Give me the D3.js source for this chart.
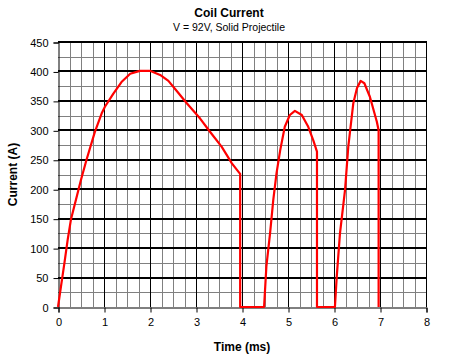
<!DOCTYPE html>
<html lang="en">
  <head>
    <meta charset="utf-8">
    <title>Coil Current</title>
    <script src="https://d3js.org/d3.v7.min.js"></script>
    <style>
      body { margin: 0; background: #fff; }
      text { font-family: Arial, "Liberation Sans", sans-serif; }
    </style>
  </head>
  <body>
    <script>

      // values
      var time = [0, 0.065, 0.14, 0.21, 0.28, 0.39, 0.5, 0.62, 0.8, 0.95, 1.02, 1.2, 1.38, 1.57, 1.78, 2.0, 2.22, 2.4, 2.6, 2.8, 3.09, 3.30, 3.56, 3.78, 3.92, 3.96, 3.96,
                  4.48, 4.53, 4.61, 4.68, 4.75, 4.83, 4.93, 5.04, 5.15, 5.30, 5.44, 5.55, 5.63, 5.63,
                  6.02, 6.06, 6.13, 6.24, 6.31, 6.42, 6.5, 6.58, 6.66, 6.78, 6.93, 6.97, 6.97];
      var current = [0, 35, 75, 114, 148, 182, 216, 250, 297, 329, 340, 362, 382, 396, 401, 401, 394, 384, 365, 346, 320, 298, 272, 244, 230, 226, 0,
                     0, 69, 125, 182, 227, 266, 306, 326, 333, 326, 306, 283, 264, 0,
                     0, 52, 125, 199, 272, 346, 372, 384, 380, 357, 315, 300, 0];
      var xTicks = [0, 1, 2, 3, 4, 5, 6, 7, 8];
      var yTicks = [0, 50, 100, 150, 200, 250, 300, 350, 400, 450];

      var W = 458, H = 357;
      var pLeft = 58, pRight = 426, pTop = 42, pBottom = 307;

      var svg = d3.select("body").append("svg")
                  .attr("width", W)
                  .attr("height", H);

      var x = d3.scaleLinear().domain([0, 8]).range([pLeft, pRight]);
      var y = d3.scaleLinear().domain([0, 450]).range([pBottom, pTop]);

      // minor grid
      var minorX = d3.range(0.25, 8, 0.25).filter(function(v) { return v % 1 != 0; });
      var minorY = d3.range(25, 450, 50);
      svg.selectAll("line.mx").data(minorX).enter().append("line")
         .attr("x1", function(d) { return Math.round(x(d)) + 0.5; })
         .attr("x2", function(d) { return Math.round(x(d)) + 0.5; })
         .attr("y1", pTop).attr("y2", pBottom)
         .style("stroke", "#808080");
      svg.selectAll("line.my").data(minorY).enter().append("line")
         .attr("y1", function(d) { return Math.round(y(d)) + 0.5; })
         .attr("y2", function(d) { return Math.round(y(d)) + 0.5; })
         .attr("x1", pLeft).attr("x2", pRight)
         .style("stroke", "#808080");

      // major grid
      svg.selectAll("line.Mx").data(xTicks.slice(1)).enter().append("line")
         .attr("x1", function(d) { return Math.round(x(d)) + 0.5; })
         .attr("x2", function(d) { return Math.round(x(d)) + 0.5; })
         .attr("y1", pTop).attr("y2", pBottom)
         .style("stroke", "#000");
      svg.selectAll("line.My").data(yTicks.slice(1)).enter().append("line")
         .attr("y1", function(d) { return Math.round(y(d)); })
         .attr("y2", function(d) { return Math.round(y(d)); })
         .attr("x1", pLeft).attr("x2", pRight + 1)
         .style("stroke", "#000")
         .style("stroke-width", 2);

      // axes
      var xAxis = d3.axisBottom(x).tickValues(xTicks).tickSize(5).tickPadding(6);
      var yAxis = d3.axisLeft(y).tickValues(yTicks).tickSize(5).tickPadding(5);

      var gx = svg.append("g").attr("transform", "translate(0.5," + (pBottom + 0.5) + ")").call(xAxis);
      var gy = svg.append("g").attr("transform", "translate(" + (pLeft + 0.5) + ",0.5)").call(yAxis);
      [gx, gy].forEach(function(g) {
        g.select(".domain").attr("stroke", "#000");
        g.selectAll(".tick line").attr("stroke", "#000");
        g.selectAll(".tick text")
         .style("font-size", "11px")
         .attr("fill", "#000");
      });

      // the curve
      var line = d3.line()
                   .x(function(d) { return x(d[0]); })
                   .y(function(d) { return y(d[1]); });
      svg.append("path")
         .datum(time.map(function(t, i) { return [t, current[i]]; }))
         .attr("d", line)
         .style("fill", "none")
         .style("stroke", "#ff0000")
         .style("stroke-width", 2.2)
         .style("stroke-linejoin", "round");

      // titles
      svg.append("text")
         .attr("x", 229).attr("y", 17)
         .attr("text-anchor", "middle")
         .style("font-size", "12px").style("font-weight", "bold")
         .text("Coil Current");
      svg.append("text")
         .attr("x", 229).attr("y", 31)
         .attr("text-anchor", "middle")
         .style("font-size", "10.5px")
         .text("V = 92V, Solid Projectile");
      svg.append("text")
         .attr("x", (pLeft + pRight) / 2).attr("y", 351)
         .attr("text-anchor", "middle")
         .style("font-size", "12px").style("font-weight", "bold")
         .text("Time (ms)");
      svg.append("text")
         .attr("transform", "translate(17," + ((pTop + pBottom) / 2) + ") rotate(-90)")
         .attr("text-anchor", "middle")
         .style("font-size", "12px").style("font-weight", "bold")
         .text("Current (A)");

    </script>
  </body>
</html>
